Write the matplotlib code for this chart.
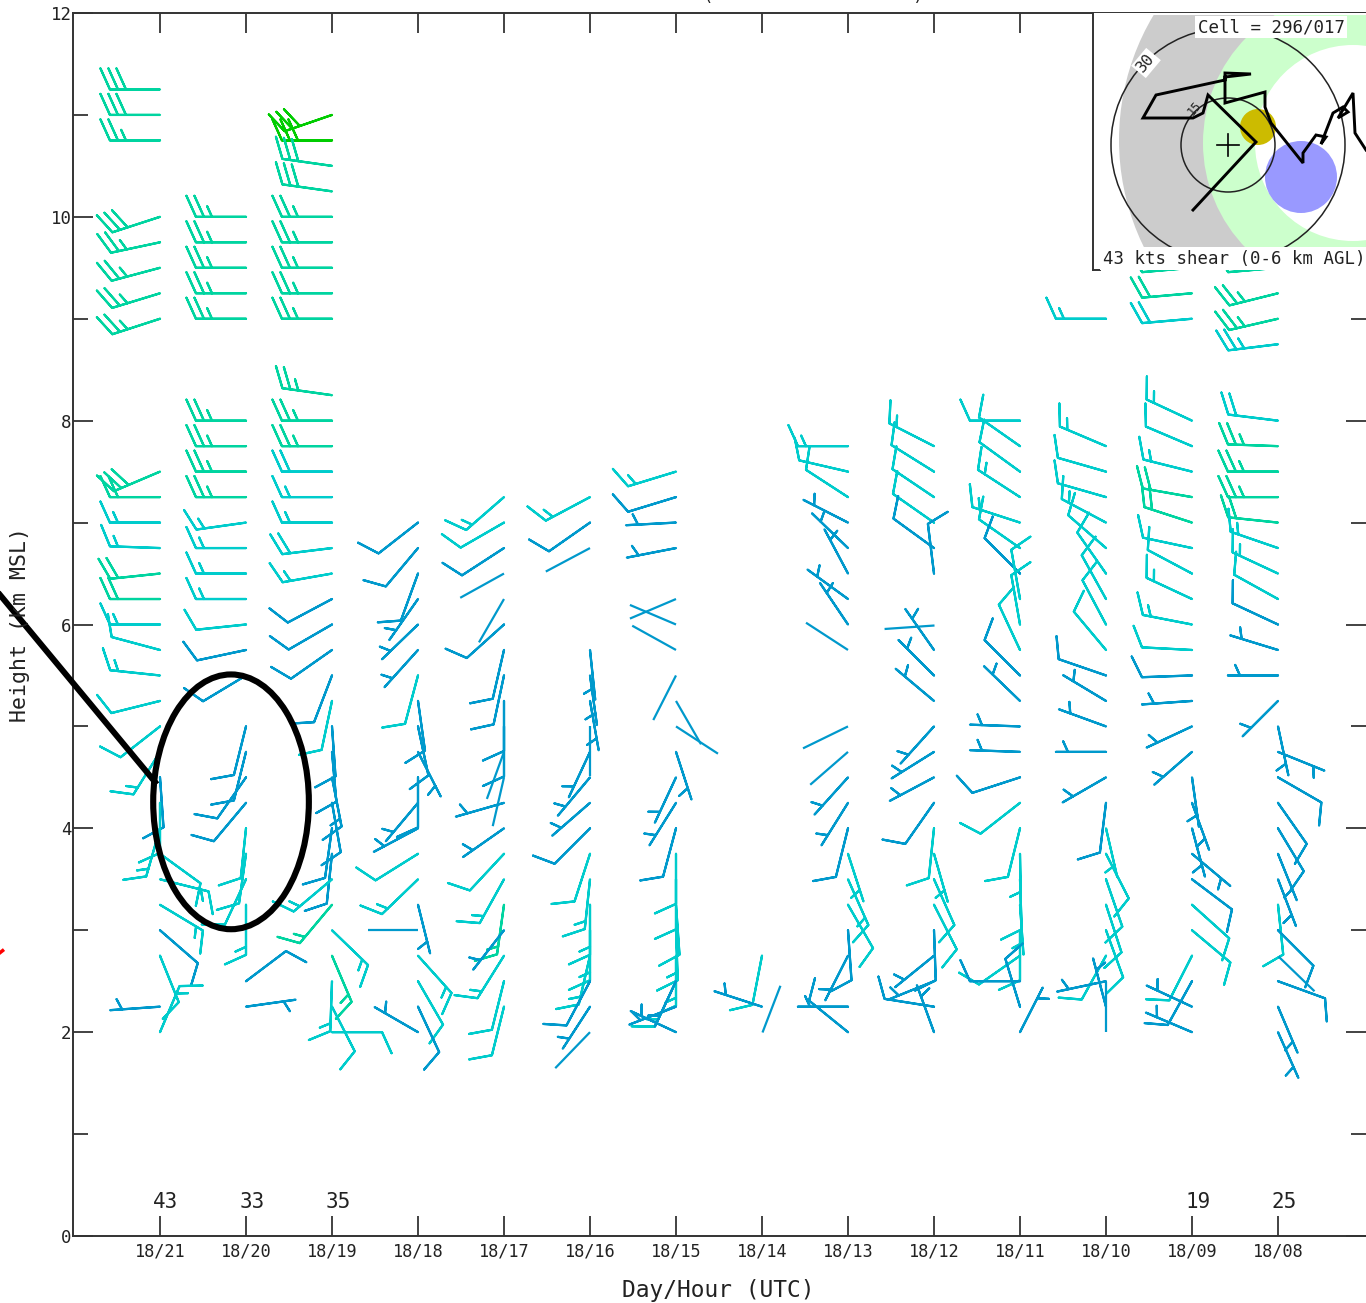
import numpy as np
import matplotlib
matplotlib.use('Agg')
import matplotlib.pyplot as plt
from matplotlib.patches import Circle, Ellipse, Rectangle

# rows are height km, direction from deg, speed kts, rms class
# speed 2 means a bare staff with no feathers
wind_21 = [(11.25,270,30,3),(11.0,270,30,3),(10.75,270,25,3),(10.0,252,30,3),(9.75,258,25,3),(9.5,255,25,3),
           (9.25,253,25,3),(9.0,252,25,3),(7.5,247,30,3),(7.25,270,20,3),(7.0,270,15,2),(6.75,272,15,2),
           (6.5,264,20,3),(6.25,270,20,3),(6.0,270,15,2),(5.75,285,10,2),(5.5,276,15,2),(5.25,256,10,2),
           (5.0,232,10,2),(4.75,212,15,2),(4.5,176,10,1),(4.25,180,10,2),(4.0,196,15,2),(3.75,126,10,2),
           (3.5,104,15,2),(3.25,121,15,2),(3.0,131,10,1),(2.75,158,10,2),(2.25,266,5,1),(2.0,23,15,2)]
wind_20 = [(10.0,270,25,3),(9.75,270,25,3),(9.5,270,25,3),(9.25,270,25,3),(9.0,270,25,3),(8.0,270,25,3),
           (7.75,270,25,3),(7.5,270,25,3),(7.25,270,25,3),(7.0,262,15,2),(6.75,270,15,2),(6.5,270,15,2),
           (6.25,270,15,2),(6.0,264,10,2),(5.75,258,10,1),(5.5,239,10,1),(5.0,194,10,1),(4.75,194,10,1),
           (4.5,215,10,1),(4.25,220,10,1),(4.0,186,10,2),(3.75,188,10,2),(3.5,205,10,2),(3.25,180,15,2),
           (2.5,53,10,1),(2.25,82,5,1)]
wind_19 = [(11.0,251,30,4),(10.75,270,30,4),(10.5,278,30,3),(10.25,278,30,3),(10.0,270,25,3),(9.75,270,25,3),
           (9.5,270,25,3),(9.25,270,25,3),(9.0,270,25,3),(8.25,278,25,3),(8.0,270,25,3),(7.75,270,25,3),
           (7.5,270,20,2),(7.25,270,15,2),(7.0,270,15,2),(6.75,263,20,2),(6.5,260,15,2),(6.25,242,10,1),
           (6.0,240,10,1),(5.75,235,10,1),(5.5,201,10,1),(5.25,192,10,2),(5.0,176,10,1),(4.75,175,10,1),
           (4.5,169,15,1),(4.25,170,10,1),(4.0,188,10,1),(3.75,186,10,1),(3.5,230,15,2),(3.25,220,15,3),
           (3.0,134,15,2),(2.75,157,15,3),(2.5,182,15,2),(2.25,153,10,2),(2.0,90,10,2)]
wind_18 = [(7.0,232,10,1),(6.75,220,10,1),(6.5,200,10,1),(6.25,215,5,1),(6.0,226,5,1),(5.75,222,5,1),
           (5.5,195,10,2),(5.25,172,10,1),(5.0,168,10,1),(4.75,153,5,1),(4.5,180,10,1),(4.25,220,5,1),
           (4.0,242,5,1),(3.75,238,10,2),(3.5,226,15,2),(3.25,166,5,1),(3.0,270,2,1),(2.75,138,15,2),
           (2.5,150,10,2),(2.25,155,10,1),(2.0,300,5,1)]
wind_17 = [(7.25,229,15,2),(7.0,240,10,2),(6.75,237,10,1),(6.5,241,2,1),(6.25,210,2,1),(6.0,228,10,1),
           (5.75,193,10,1),(5.5,192,10,1),(5.25,180,10,1),(5.0,180,10,1),(4.75,200,2,1),(4.5,193,2,1),
           (4.25,254,5,1),(4.0,235,5,1),(3.75,223,10,2),(3.5,209,15,2),(3.25,188,15,3),(3.0,218,5,1),
           (2.75,212,15,2),(2.5,194,10,2),(2.25,194,10,2)]
wind_16 = [(7.25,242,15,2),(7.0,235,10,1),(6.75,242,2,1),(5.75,174,5,1),(5.5,172,5,1),(5.25,170,5,1),
           (5.0,180,2,1),(4.75,205,5,1),(4.5,220,5,1),(4.25,229,5,1),(4.0,225,10,1),(3.75,198,10,2),
           (3.5,186,15,2),(3.25,180,15,2),(3.0,180,15,2),(2.75,193,15,2),(2.5,208,10,1),(2.25,213,5,1),
           (2.0,224,2,1)]
wind_15 = [(7.5,253,15,2),(7.25,253,10,1),(7.0,267,5,1),(6.75,259,5,1),(6.25,247,2,1),(6.0,293,2,1),
           (5.75,299,2,1),(5.5,207,2,1),(5.25,150,2,1),(5.0,123,2,1),(4.75,162,5,1),(4.5,205,5,1),
           (4.25,212,5,1),(4.0,195,10,1),(3.75,180,10,2),(3.5,180,10,2),(3.25,176,10,2),(3.0,178,15,2),
           (2.75,180,15,2),(2.5,205,15,2),(2.5,205,5,1),(2.25,249,5,1),(2.0,295,5,1)]
wind_14 = [(2.75,191,10,2),(2.25,288,5,1),(2.0,21,2,1)]
wind_13 = [(7.75,270,15,2),(7.5,283,10,2),(7.25,303,10,2),(7.0,297,5,1),(6.75,314,5,1),(6.5,332,5,1),
           (6.25,306,5,1),(6.0,326,5,1),(5.75,303,2,1),(5.0,244,2,1),(4.75,229,2,1),(4.5,222,5,1),
           (4.25,212,5,1),(4.0,194,10,1),(3.75,162,5,2),(3.5,156,15,2),(3.25,150,10,2),(3.0,176,10,1),
           (2.75,207,5,1),(2.25,270,5,1),(2.0,309,10,1)]
wind_12 = [(7.75,297,15,2),(7.5,302,10,2),(7.25,304,10,2),(7.0,305,10,2),(6.75,306,10,1),(6.5,353,10,1),
           (6.0,266,2,1),(5.75,325,5,1),(5.5,315,5,1),(5.25,310,5,1),(5.0,222,5,1),(4.75,238,5,1),
           (4.5,242,5,1),(4.25,215,10,1),(4.0,186,10,2),(3.75,164,5,2),(3.5,156,10,2),(3.25,153,10,2),
           (3.0,178,10,1),(2.75,231,5,1),(2.5,248,5,1),(2.25,279,10,1),(2.0,340,5,1)]
wind_11 = [(8.0,270,10,2),(7.75,305,10,2),(7.5,306,10,2),(7.25,303,15,2),(7.0,288,15,2),(6.75,305,10,2),
           (6.5,315,10,1),(6.25,350,10,2),(6.0,350,10,2),(5.75,335,10,2),(5.5,315,10,1),(5.25,314,5,1),
           (5.0,272,5,1),(4.75,272,5,1),(4.5,252,10,1),(4.25,232,10,2),(4.0,194,10,2),(3.75,179,5,2),
           (3.5,178,10,2),(3.25,176,5,2),(3.0,180,10,2),(2.75,235,10,2),(2.5,270,10,1),(2.25,343,10,1),
           (2.0,27,5,1)]
wind_10 = [(9.0,270,15,2),(7.75,293,15,2),(7.5,286,10,2),(7.25,286,10,2),(7.0,298,15,2),(6.75,311,10,2),
           (6.5,325,10,2),(6.25,331,10,2),(6.0,332,10,2),(5.75,320,10,2),(5.5,289,10,1),(5.25,301,5,1),
           (5.0,290,5,1),(4.75,270,5,1),(4.5,240,5,1),(4.25,187,10,1),(4.0,167,5,2),(3.75,153,10,2),
           (3.5,161,10,2),(3.25,162,10,2),(3.0,160,10,2),(2.75,209,10,2),(2.5,258,5,1),(2.25,345,5,1),
           (2.0,0,2,1)]
wind_09 = [(9.5,265,15,3),(9.25,265,20,3),(9.0,265,20,2),(8.0,295,15,2),(7.75,293,10,2),(7.5,284,15,2),
           (7.25,280,20,3),(7.0,288,20,3),(6.75,282,10,2),(6.5,298,10,2),(6.25,295,15,2),(6.0,281,15,2),
           (5.75,273,10,2),(5.5,268,10,1),(5.25,266,5,1),(5.0,245,5,1),(4.75,229,5,1),(4.5,172,5,1),
           (4.25,160,5,1),(4.0,165,5,1),(3.75,130,5,1),(3.5,127,10,1),(3.25,132,10,2),(3.0,130,10,2),
           (2.75,207,10,2),(2.5,209,10,1),(2.25,295,5,1),(2.0,293,5,1)]
wind_08 = [(9.5,265,15,3),(9.25,256,25,3),(9.0,257,25,3),(8.75,263,25,2),(8.0,277,20,2),(7.75,272,25,3),
           (7.5,270,25,3),(7.25,270,25,3),(7.0,276,20,3),(6.75,289,15,2),(6.5,295,15,2),(6.25,299,10,2),
           (6.0,295,10,1),(5.75,287,5,1),(5.5,270,5,1),(5.25,225,5,1),(5.0,168,5,1),(4.75,112,5,1),
           (4.5,120,10,1),(4.25,145,10,1),(4.0,149,10,1),(3.75,158,5,1),(3.5,159,5,1),(3.25,174,10,2),
           (3.0,135,10,1),(2.75,134,2,1),(2.5,110,10,1),(2.25,157,5,1),(2.0,156,5,1)]

columns = [wind_21, wind_20, wind_19, wind_18, wind_17, wind_16, wind_15,
           wind_14, wind_13, wind_12, wind_11, wind_10, wind_09, wind_08]
hour_labels = ['18/21', '18/20', '18/19', '18/18', '18/17', '18/16', '18/15',
               '18/14', '18/13', '18/12', '18/11', '18/10', '18/09', '18/08']
shear_cols = [0, 1, 2, 12, 13]
shear_vals = [43, 33, 35, 19, 25]

rms_colors = {1: '#0099cc', 2: '#00cccc', 3: '#00d4a0', 4: '#00cc00'}

# inset, offsets from the centre cross
ring_radii = [117, 47]
track_x = [-35, 28, -20, -25, -35, -85, -72, -3, -3, 23, -3, -3, 37, 37, 43, 75, 75, 88, 98, 93, 105, 115, 120, 110, 125, 127, 138]
track_y = [-65, 3, 50, 32, 27, 27, 50, 65, 72, 71, 68, 42, 53, 38, 22, -18, -8, 10, 8, 1, 32, 38, 33, 27, 52, 12, -5]
grey_zone = (134, 5, 243)
green_zone = (125, 2, 150)
white_zone = (125, 2, 98)
blue_storm = (73, -32, 36)
yellow_storm = (30, 18, 18)

plt.rcParams['font.family'] = 'DejaVu Sans Mono'
fig = plt.figure(figsize=(13.66, 13.03), dpi=100)
ax = fig.add_axes([73/1366, 1 - 1236/1303, (1366 - 73)/1366, (1236 - 13)/1303])

barb_sizes = dict(spacing=0.16, height=0.42, width=0.38)
staff_sizes = dict(spacing=0.16, height=0.0, width=0.0)

# draw barbs column by column so overlaps stack the same way
for i, rows in enumerate(columns):
    h = np.array([r[0] for r in rows])
    d = np.radians([r[1] for r in rows])
    s = np.array([r[2] for r in rows], dtype=float)
    c = np.array([rms_colors[r[3]] for r in rows])
    x = np.full(len(rows), i, dtype=float)
    u = -s * np.sin(d)
    v = -s * np.cos(d)
    bare = s < 5
    if (~bare).any():
        ax.barbs(x[~bare], h[~bare], u[~bare], v[~bare], length=8.49, linewidth=1.6,
                 barbcolor=list(c[~bare]), flagcolor=list(c[~bare]),
                 sizes=barb_sizes, clip_on=False)
    if bare.any():
        ax.barbs(x[bare], h[bare], u[bare]*5, v[bare]*5, length=8.49, linewidth=1.6,
                 barbcolor=list(c[bare]), flagcolor=list(c[bare]),
                 sizes=staff_sizes, clip_on=False)

for col, val in zip(shear_cols, shear_vals):
    ax.text(col + 0.07, 0.33, str(val), ha='center', va='center', fontsize=15, color='#222222')

# hand drawn markup on top of the chart
ax.add_patch(Ellipse((0.826, 4.26), 1.81, 2.5, fill=False, ec='black', lw=4.4, zorder=6))
ax.plot([-1.86, -0.058], [6.29, 4.455], color='black', lw=4.3, clip_on=False, zorder=6)
ax.plot([-1.86, -1.83], [2.78, 2.80], color='red', lw=2.5, clip_on=False, zorder=6)

ax.set_xlim((73 - 160)/86, (1366 - 160)/86)
ax.set_ylim(0, 12)
ax.set_xticks(range(14))
ax.set_xticklabels(hour_labels, fontsize=12.2, color='#222222')
ax.set_yticks(range(0, 13, 2))
ax.set_yticks(range(1, 12, 2), minor=True)
ax.set_yticklabels([str(t) for t in range(0, 13, 2)], fontsize=12.5, color='#222222')
ax.tick_params(axis='x', which='major', direction='in', length=14.4, width=1.2, top=True, pad=5, color='#222222')
ax.tick_params(axis='y', which='major', direction='in', length=14.4, width=1.2, right=True, pad=1, color='#222222')
ax.tick_params(axis='y', which='minor', direction='in', length=10.8, width=1.2, right=True, color='#222222')
ax.spines['right'].set_visible(False)
for name in ['left', 'bottom', 'top']:
    ax.spines[name].set_linewidth(1.4)
    ax.spines[name].set_color('#333333')

fig.text(718/1366, 1 - 1290/1303, 'Day/Hour (UTC)', ha='center', va='center', fontsize=16.5, color='#222222')
fig.text(20/1366, 1 - 625/1303, 'Height (km MSL)', rotation=90, ha='center', va='center', fontsize=15.5, color='#222222')
fig.text(813/1366, 1 + 4/1303, '(' + ' ' * 19 + ')', ha='center', va='center', fontsize=12.5, color='#222222')

# storm motion inset
ins = fig.add_axes([1093/1366, 1 - 270/1303, (1366 - 1093)/1366, (270 - 13)/1303], zorder=5)
ins.set_xlim(1093 - 1228, 1366 - 1228)
ins.set_ylim(145 - 270, 145 - 13)
ins.set_xticks([])
ins.set_yticks([])
for name in ['top', 'right', 'bottom']:
    ins.spines[name].set_visible(False)
ins.spines['left'].set_linewidth(1.4)
ins.spines['left'].set_color('#333333')

clip = Rectangle((-135, -103), 273, 233, transform=ins.transData)
for (cx, cy, r), col in zip([grey_zone, green_zone, white_zone], ['#cccccc', '#ccffcc', 'white']):
    p = Circle((cx, cy), r, fc=col, ec='none')
    ins.add_patch(p)
    p.set_clip_path(clip)
ins.add_patch(Circle(blue_storm[:2], blue_storm[2], fc='#9999ff', ec='none'))
ins.add_patch(Circle(yellow_storm[:2], yellow_storm[2], fc='#ccbb00', ec='none'))
for r in ring_radii:
    ins.add_patch(Circle((0, 0), r, fill=False, ec='#222222', lw=1.1))
ins.plot(track_x, track_y, color='black', lw=2.1, solid_joinstyle='miter')
ins.plot([-11, 11], [0, 0], color='black', lw=1.2)
ins.plot([0, 0], [-11, 11], color='black', lw=1.2)
ins.plot([-135, -128], [-124.5, -124.5], color='#333333', lw=1.4, clip_on=False)

wb = dict(fc='white', ec='none', pad=1.5)
ins.text(-82, 82, '30', rotation=50, ha='center', va='center', fontsize=11.5, color='#222222', bbox=wb)
ins.text(-33, 37, '15', rotation=50, ha='center', va='center', fontsize=8.5, color='#222222')
ins.text(43, 118, 'Cell = 296/017', ha='center', va='center', fontsize=12.6, color='#222222', bbox=wb)
ins.text(-125, -114, '43 kts shear (0-6 km AGL)', ha='left', va='center', fontsize=12.5, color='#222222',
         bbox=dict(fc='white', ec='none', pad=2.5), clip_on=True)

fig.savefig('out.png', dpi=100)
